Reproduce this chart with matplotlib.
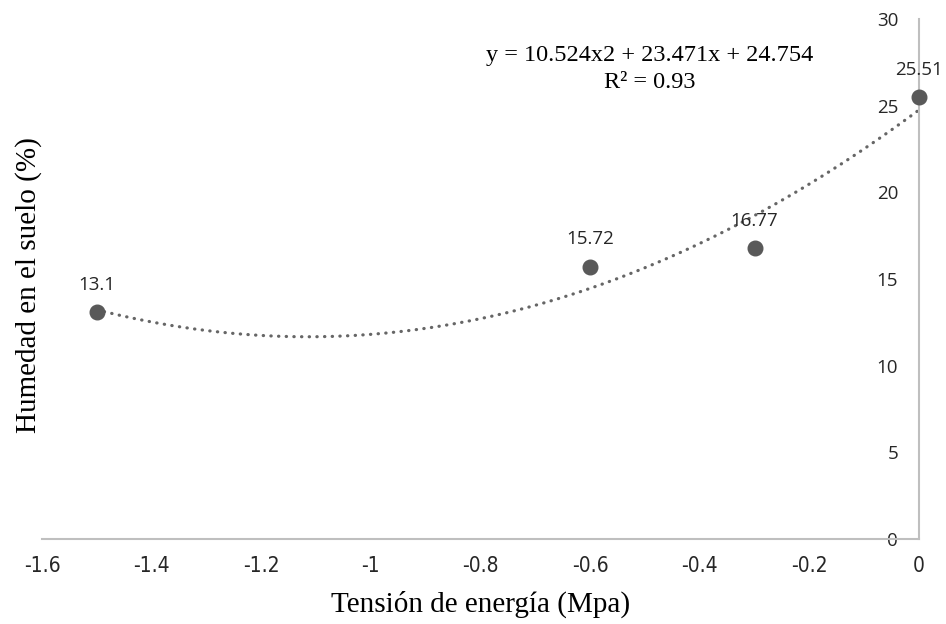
import numpy as np
import matplotlib
matplotlib.use("Agg")
import matplotlib.pyplot as plt

x_vals = [-1.5, -0.6, -0.3, 0.0]
y_vals = [13.1, 15.72, 16.77, 25.51]
labels = ["13.1", "15.72", "16.77", "25.51"]
x_ticks = [-1.6, -1.4, -1.2, -1.0, -0.8, -0.6, -0.4, -0.2, 0.0]
x_tick_labels = ["-1.6", "-1.4", "-1.2", "-1", "-0.8", "-0.6", "-0.4", "-0.2", "0"]
y_ticks = [0, 5, 10, 15, 20, 25, 30]
equation = "y = 10.524x2 + 23.471x + 24.754"
r2_text = "R² = 0.93"

fig = plt.figure(figsize=(9.46, 6.24), dpi=100)
ax = fig.add_axes([42/946, 1 - 539/624, (919 - 42)/946, (539 - 19)/624])

ax.spines["left"].set_position(("data", 0))
ax.spines["right"].set_visible(False)
ax.spines["top"].set_visible(False)
for s in ("left", "bottom"):
    ax.spines[s].set_color("#BFBFBF")
    ax.spines[s].set_linewidth(1.5)

coef = np.polyfit(x_vals, y_vals, 2)
xs = np.linspace(min(x_vals), max(x_vals), 200)
ax.plot(xs, np.polyval(coef, xs), linestyle=(0, (0.1, 2.3)), color="#666666",
        linewidth=2.3, dash_capstyle="round", zorder=2)
ax.plot(x_vals, y_vals, "o", color="#595959", markersize=10.5, zorder=3, clip_on=False)

for xv, yv, lab in zip(x_vals, y_vals, labels):
    ax.annotate(lab, (xv, yv), xytext=(0, 13), textcoords="offset points",
                ha="center", va="bottom", fontsize=13.5, family="Open Sans",
                color="#262626", annotation_clip=False)

ax.set_xlim(-1.6, 0)
ax.set_ylim(0, 30)
ax.set_xticks(x_ticks)
ax.set_xticklabels(x_tick_labels, family="DejaVu Sans", fontstretch="condensed",
                   fontsize=15, color="#262626")
ax.set_yticks(y_ticks)
ax.set_yticklabels([str(v) for v in y_ticks], family="Open Sans", fontsize=13.5, color="#262626")
ax.tick_params(axis="both", length=0)
ax.tick_params(axis="x", pad=12)
ax.tick_params(axis="y", pad=15)

ax.set_xlabel("Tensión de energía (Mpa)", family="Liberation Serif", fontsize=21, labelpad=11)
fig.text(29/946, 1 - 285/624, "Humedad en el suelo (%)", family="Liberation Serif", fontsize=21,
         rotation=90, ha="center", va="center")

fig.text(650/946, 1 - 55/624, equation, family="Liberation Serif", fontsize=17.5, ha="center", va="center")
fig.text(650/946, 1 - 83/624, r2_text, family="Liberation Serif", fontsize=17.5, ha="center", va="center")

fig.savefig("out.png", dpi=100)
